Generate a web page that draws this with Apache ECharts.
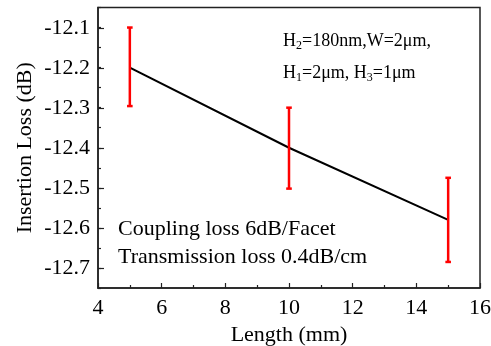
<!DOCTYPE html>
<html>
<head>
<meta charset="utf-8">
<script src="https://cdn.jsdelivr.net/npm/echarts@6/dist/echarts.min.js"></script>
<style>
  html, body { margin: 0; padding: 0; background: #fff; }
  #chart { width: 491px; height: 346px; }
</style>
</head>
<body>
<div id="chart"></div>
<script>
// Insertion loss vs length, with error bars
const lengths = [5, 10, 15];
const loss = [-12.2, -12.4, -12.58];
const errHigh = [-12.1, -12.3, -12.475];
const errLow = [-12.296, -12.502, -12.685];
const yTicks = [-12.7, -12.6, -12.5, -12.4, -12.3, -12.2, -12.1];

const chart = echarts.init(document.getElementById("chart"));
const font = "'Liberation Serif', 'Times New Roman', serif";
const axisColor = "#222";

const option = {
  animation: false,
  grid: [
    // main plot area
    {
      left: 98, right: 11, top: 7.5, bottom: 58,
      outerBoundsMode: "none", containLabel: false,
      show: true, borderColor: axisColor, borderWidth: 1.5,
    },
    // helper grid so major y ticks fall on the tenths
    {
      left: 98, right: 11, top: 28.2, bottom: 77.7,
      outerBoundsMode: "none", containLabel: false,
    },
  ],
  xAxis: [
    {
      type: "value", gridIndex: 0, min: 4, max: 16, interval: 2,
      axisLine: { lineStyle: { color: axisColor, width: 1.5 } },
      axisTick: { inside: true, length: 5, lineStyle: { color: axisColor, width: 1.2 } },
      minorTick: { show: true, splitNumber: 2, length: 3, lineStyle: { color: axisColor, width: 1.2 } },
      splitLine: { show: false },
      axisLabel: { color: "#000", fontFamily: font, fontSize: 22, margin: 9 },
      name: "Length (mm)", nameLocation: "middle", nameGap: 34,
      nameTextStyle: { color: "#000", fontFamily: font, fontSize: 22 },
    },
    { type: "value", gridIndex: 1, min: 4, max: 16, show: false },
  ],
  yAxis: [
    {
      type: "value", gridIndex: 0, min: -12.75, max: -12.05, interval: 0.05,
      axisLine: { lineStyle: { color: axisColor, width: 1.5 } },
      axisTick: { inside: true, length: 3, lineStyle: { color: axisColor, width: 1.2 } },
      axisLabel: { show: false },
      splitLine: { show: false },
      name: "Insertion Loss (dB)", nameLocation: "middle", nameGap: 62,
      nameTextStyle: { color: "#000", fontFamily: font, fontSize: 22 },
    },
    {
      type: "value", gridIndex: 1, min: yTicks[0], max: yTicks[yTicks.length - 1], interval: 0.1,
      axisLine: { show: false },
      axisTick: { inside: true, length: 6, lineStyle: { color: axisColor, width: 1.2 } },
      axisLabel: {
        color: "#000", fontFamily: font, fontSize: 22, margin: 8,
        formatter: (v) => v.toFixed(1),
      },
      splitLine: { show: false },
    },
  ],
  series: [
    {
      type: "line",
      xAxisIndex: 0, yAxisIndex: 0,
      data: lengths.map((x, i) => [x, loss[i]]),
      showSymbol: false,
      lineStyle: { color: "#000", width: 2 },
      z: 2,
    },
    {
      type: "custom",
      xAxisIndex: 0, yAxisIndex: 0,
      data: lengths.map((x, i) => [x, errLow[i], errHigh[i]]),
      renderItem: (params, api) => {
        const lo = api.coord([api.value(0), api.value(1)]);
        const hi = api.coord([api.value(0), api.value(2)]);
        const w = 2.8;
        const style = { stroke: "#ff0000", lineWidth: 2.5 };
        return {
          type: "group",
          children: [
            { type: "line", shape: { x1: hi[0], y1: hi[1], x2: lo[0], y2: lo[1] }, style },
            { type: "line", shape: { x1: hi[0] - w, y1: hi[1], x2: hi[0] + w, y2: hi[1] }, style },
            { type: "line", shape: { x1: lo[0] - w, y1: lo[1], x2: lo[0] + w, y2: lo[1] }, style },
          ],
        };
      },
      z: 3,
    },
  ],
  graphic: [
    {
      type: "text", left: 283, top: 32,
      style: {
        text: "{n|H}{s|2}{n|=180nm,W=2\u03bcm,}",
        rich: {
          n: { fontFamily: font, fontSize: 18, fill: "#000" },
          s: { fontFamily: font, fontSize: 12, fill: "#000", padding: [10, 0, 0, 0] },
        },
      },
    },
    {
      type: "text", left: 283, top: 64,
      style: {
        text: "{n|H}{s|1}{n|=2\u03bcm, H}{s|3}{n|=1\u03bcm}",
        rich: {
          n: { fontFamily: font, fontSize: 18, fill: "#000" },
          s: { fontFamily: font, fontSize: 12, fill: "#000", padding: [10, 0, 0, 0] },
        },
      },
    },
    {
      type: "text", left: 118, top: 218,
      style: { text: "Coupling loss 6dB/Facet", fontFamily: font, fontSize: 22, fill: "#000" },
    },
    {
      type: "text", left: 118, top: 246,
      style: { text: "Transmission loss 0.4dB/cm", fontFamily: font, fontSize: 22, fill: "#000" },
    },
  ],
};

chart.setOption(option);
window.addEventListener("resize", () => chart.resize());
</script>
</body>
</html>
